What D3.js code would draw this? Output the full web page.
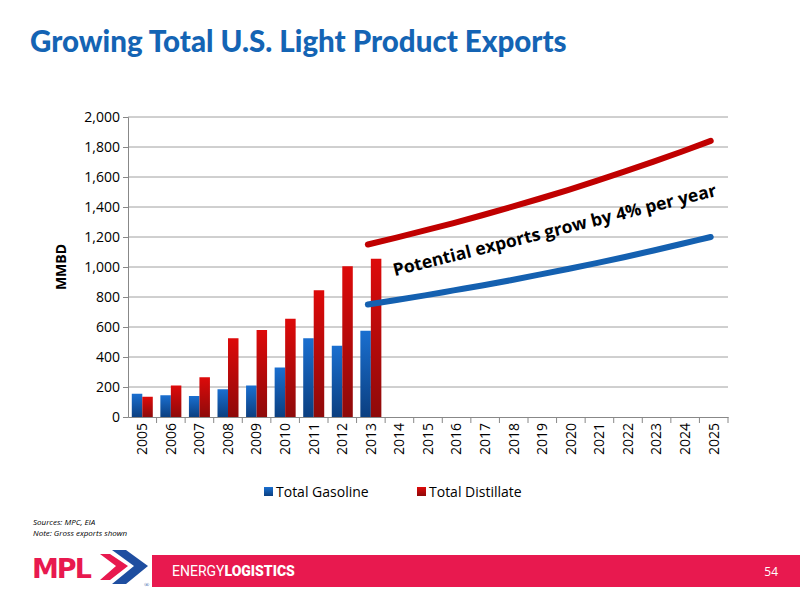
<!DOCTYPE html><html><head><meta charset="utf-8"><script src="https://cdn.jsdelivr.net/npm/d3@7"></script>
<style>body{margin:0;background:#fff}</style></head><body><svg id="c" width="800" height="600"></svg>
<script>
const years=["2005","2006","2007","2008","2009","2010","2011","2012","2013","2014","2015","2016","2017","2018","2019","2020","2021","2022","2023","2024","2025"];
const gasoline=[155,145,140,185,210,330,525,475,575];
const distillate=[135,210,265,525,580,655,845,1005,1055];
const projYears=years.slice(8);
const gasProj=[750,780,811,844,877,912,949,987,1026,1067,1110,1155,1200];
const distProj=[1150,1196,1244,1293,1345,1399,1455,1513,1574,1637,1702,1770,1841];
const yTicks=[0,200,400,600,800,1000,1200,1400,1600,1800,2000];
const svg=d3.select("#c");
const F="'Open Sans',Lato,sans-serif";
const defs=svg.append("defs");
function grad(id,top,bot){const g=defs.append("linearGradient").attr("id",id).attr("x1",0).attr("x2",0).attr("y1",0).attr("y2",1);g.append("stop").attr("offset","0").attr("stop-color",top);g.append("stop").attr("offset","1").attr("stop-color",bot);}
grad("gb","#1a6fd0","#0b3f80");grad("gr","#dd0a0a","#8e0a0a");
svg.append("text").attr("x",30).attr("y",52).attr("font-family","Lato,"+F).attr("font-weight",900).attr("font-size",29.5).attr("fill","#1464b4").text("Growing Total U.S. Light Product Exports");
const L=128,R=728,T=117,B=417;
const x=d3.scaleBand().domain(years).range([L,R]);
const y=d3.scaleLinear().domain([0,2000]).range([B,T]);
svg.append("g").selectAll("line").data(yTicks.slice(1)).join("line").attr("x1",L).attr("x2",R).attr("y1",d=>y(d)).attr("y2",d=>y(d)).attr("stroke","#a0a0a0");
const ya=svg.append("g").attr("transform",`translate(${L},0)`).call(d3.axisLeft(y).tickValues(yTicks).tickFormat(d3.format(",")).tickSize(5));
ya.selectAll("text").attr("font-family",F).attr("font-size",14).attr("fill","#000");
ya.selectAll("line,path").attr("stroke","#888");
const xa=svg.append("g").attr("transform",`translate(0,${B})`).call(d3.axisBottom(x).tickSize(0));
xa.selectAll("path").attr("stroke","#888");
xa.selectAll(".tick").append("line").attr("x1",x.bandwidth()/2).attr("x2",x.bandwidth()/2).attr("y1",0).attr("y2",6).attr("stroke","#888");
xa.selectAll("text").attr("font-family",F).attr("font-size",14).attr("fill","#000").attr("transform","rotate(-90)").attr("text-anchor","end").attr("x",-6).attr("y",0).attr("dy","0.35em");
const bw=10.5,g0=(x.bandwidth()-2*bw)/2;
svg.append("g").selectAll("rect").data(gasoline).join("rect").attr("x",(d,i)=>x(years[i])+g0).attr("width",bw).attr("y",d=>y(d)).attr("height",d=>B-y(d)).attr("fill","url(#gb)");
svg.append("g").selectAll("rect").data(distillate).join("rect").attr("x",(d,i)=>x(years[i])+g0+bw).attr("width",bw).attr("y",d=>y(d)).attr("height",d=>B-y(d)).attr("fill","url(#gr)");
const line=d3.line().x((d,i)=>x(projYears[i])+x.bandwidth()/2-3).y(d=>y(d)).curve(d3.curveMonotoneX);
svg.append("path").datum(distProj).attr("d",line).attr("fill","none").attr("stroke","#c00000").attr("stroke-width",6).attr("stroke-linecap","round");
svg.append("path").datum(gasProj).attr("d",line).attr("fill","none").attr("stroke","#1460b0").attr("stroke-width",6).attr("stroke-linecap","round");
svg.append("text").attr("transform","translate(556,236) rotate(-14)").attr("text-anchor","middle").attr("font-family",F).attr("font-weight",700).attr("font-size",17.5).attr("fill","#000").text("Potential exports grow by 4% per year");
svg.append("text").attr("transform","translate(66,267) rotate(-90)").attr("text-anchor","middle").attr("font-family",F).attr("font-weight",700).attr("font-size",14).text("MMBD");
const lg=svg.append("g").attr("font-family",F).attr("font-size",14);
lg.append("rect").attr("x",264).attr("y",487).attr("width",9).attr("height",9).attr("fill","url(#gb)");
lg.append("text").attr("x",276).attr("y",497).text("Total Gasoline");
lg.append("rect").attr("x",417).attr("y",487).attr("width",9).attr("height",9).attr("fill","url(#gr)");
lg.append("text").attr("x",429).attr("y",497).text("Total Distillate");
svg.append("text").attr("x",33).attr("y",525).attr("font-family",F).attr("font-style","italic").attr("font-size",8).text("Sources:  MPC, EIA");
svg.append("text").attr("x",33).attr("y",536).attr("font-family",F).attr("font-style","italic").attr("font-size",8).text("Note:  Gross exports shown");
svg.append("rect").attr("x",152).attr("y",555).attr("width",648).attr("height",32).attr("fill","#e8194f");
svg.append("text").attr("x",172).attr("y",576).attr("font-family","Roboto,sans-serif").attr("font-size",14).attr("fill","#fff").html("ENERGY<tspan font-weight='900'>LOGISTICS</tspan>");
svg.append("text").attr("x",778).attr("y",576).attr("text-anchor","end").attr("font-family",F).attr("font-size",12).attr("fill","#fff").text("54");
const logo=svg.append("g");
logo.append("text").attr("x",32).attr("y",578).attr("font-family","'DejaVu Sans',sans-serif").attr("font-weight",900).attr("font-size",27).attr("fill","#e8194f").attr("letter-spacing",-2).text("MPL");
logo.append("path").attr("d","M112,550 L126,550 L148,566 L126,584 L112,584 L134,566 Z").attr("fill","#1e4ea0");
logo.append("path").attr("d","M100,554 L110,554 L128,566 L110,580 L100,580 L116,566 Z").attr("fill","#e8194f");
logo.append("text").attr("x",144).attr("y",587).attr("font-size",7).attr("fill","#1e4ea0").text("®");
</script></body></html>
